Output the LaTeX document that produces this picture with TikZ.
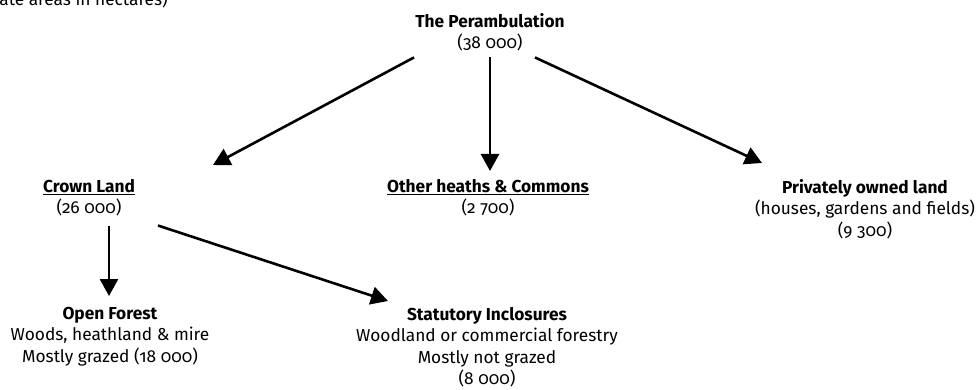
\documentclass[tikz,border=0pt]{standalone}
\usepackage{fontspec}
\setmainfont{Fira Sans}[Numbers=OldStyle]
\usetikzlibrary{arrows.meta}

\begin{document}
\begin{tikzpicture}[x=1pt, y=-1pt,
  font=\fontsize{17.3}{21.5}\selectfont,
  box/.style={align=center, inner sep=0pt, anchor=north},
  link/.style={line width=2.6pt, -{Triangle[length=17pt,width=18pt]}}]
  \useasboundingbox (0,0) rectangle (979,390);
  \node[anchor=base east, inner sep=0pt] (note) at (168,6) {(Approximate areas in hectares)};
  \node[box] (peram) at (490,13) {\textbf{The Perambulation}\\(38 000)};
  \node[box] (crown) at (89,179) {\textbf{\underline{Crown Land}}\\(26 000)};
  \node[box] (other) at (488,179) {\textbf{\underline{Other heaths \& Commons}}\\(2 700)};
  \node[box] (private) at (865,179) {\textbf{Privately owned land}\\(houses, gardens and fields)\\(9 300)};
  \node[box] (open) at (110,307) {\textbf{Open Forest}\\Woods, heathland \& mire\\Mostly grazed (18 000)};
  \node[box] (stat) at (487,307) {\textbf{Statutory Inclosures}\\Woodland or commercial forestry\\Mostly not grazed\\(8 000)};
  % arrows
  \draw[link] ([xshift=-76pt,yshift=-6pt]peram.south) -- ([xshift=124pt,yshift=14pt]crown.north);
  \draw[link] ([yshift=-6pt]peram.south) -- ([yshift=8pt]peram.south |- other.north);
  \draw[link] ([xshift=45pt,yshift=-6pt]peram.south) -- ([xshift=-103pt,yshift=16pt]private.north);
  \draw[link] ([xshift=20pt,yshift=-9pt]crown.south) -- ([xshift=-1pt,yshift=11pt]open.north);
  \draw[link] ([xshift=69pt,yshift=-9pt]crown.south) -- ([xshift=-99pt,yshift=6pt]stat.north);
\end{tikzpicture}
\end{document}
